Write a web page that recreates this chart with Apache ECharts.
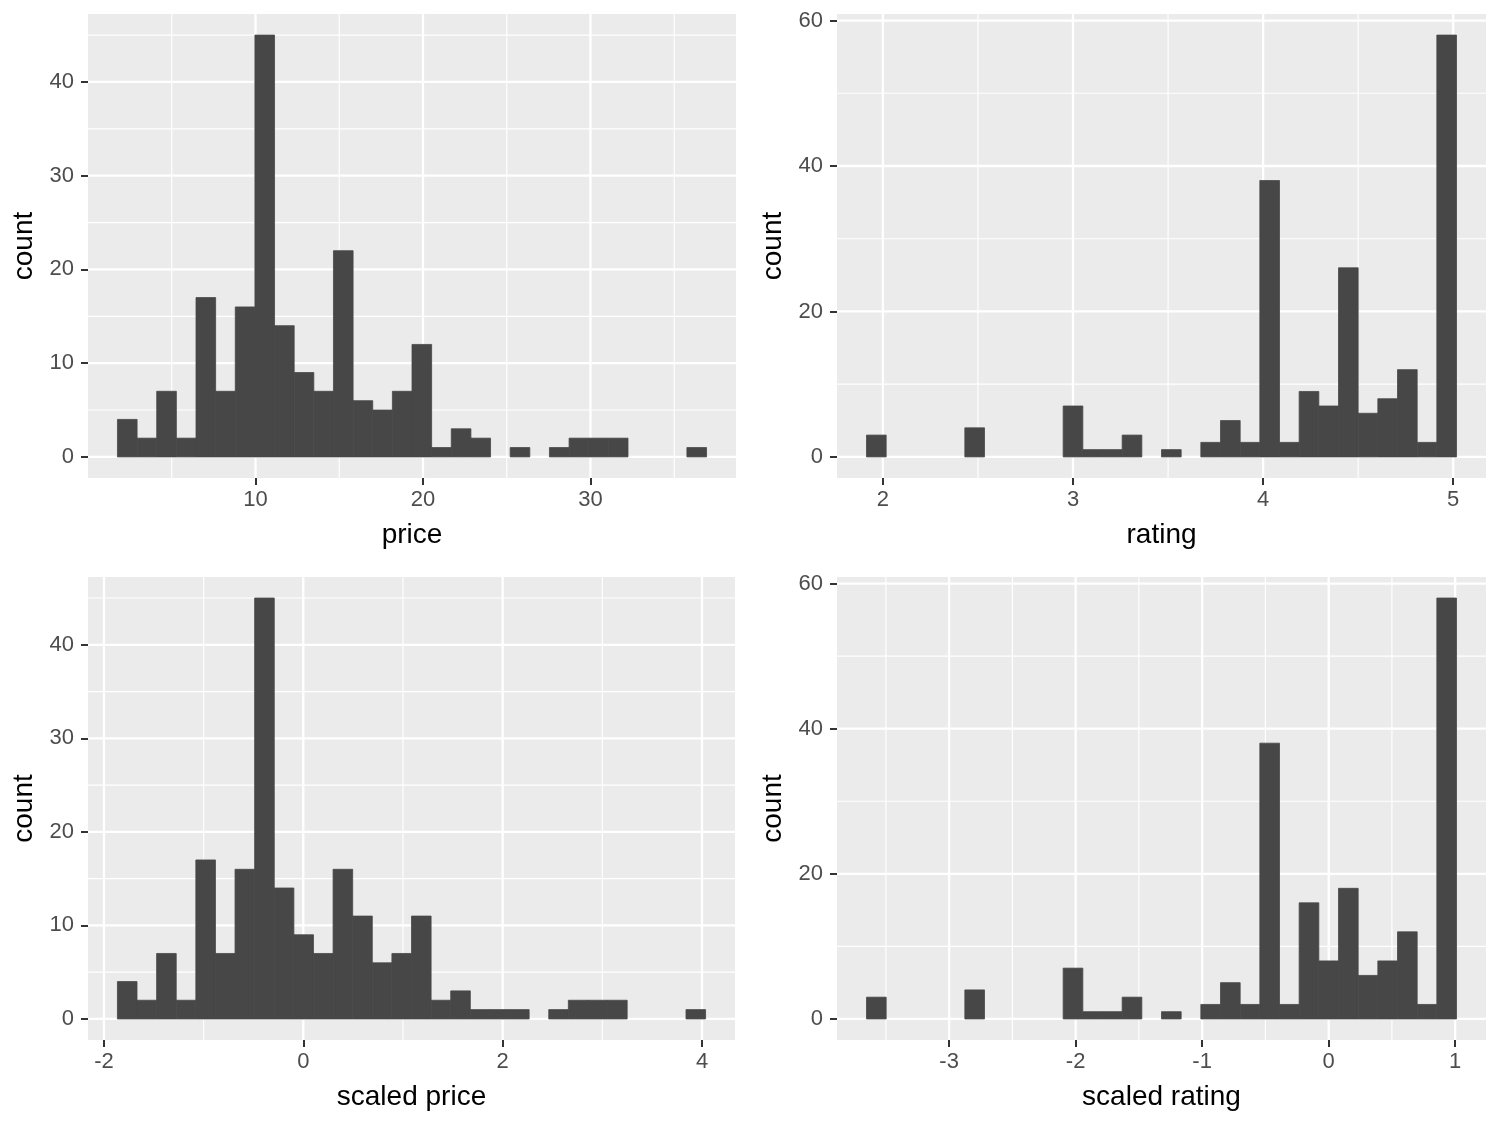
<!DOCTYPE html>
<html><head><meta charset="utf-8">
<script src="https://cdn.jsdelivr.net/npm/echarts@6/dist/echarts.min.js"></script>
<style>html,body{margin:0;padding:0;background:#fff}#c{width:1500px;height:1125px}</style>
</head><body><div id="c"></div>
<script>
// ---- data (histogram counts, 30 bins each) ----
const priceCounts        = [4,2,7,2,17,7,16,45,14,9,7,22,6,5,7,12,1,3,2,0,1,0,1,2,2,2,0,0,0,1];
const priceBinStart      = 1.7586;
const priceBinWidth      = 1.17241;

const ratingCounts       = [3,0,0,0,0,4,0,0,0,0,7,1,1,3,0,1,0,2,5,2,38,2,9,7,26,6,8,12,2,58];
const ratingBinStart     = 1.9138;
const ratingBinWidth     = 0.103448;

const scaledPriceCounts  = [4,2,7,2,17,7,16,45,14,9,7,16,11,6,7,11,2,3,1,1,1,0,1,2,2,2,0,0,0,1];
const scaledPriceBinStart = -1.865;
const scaledPriceBinWidth = 0.1967;

const scaledRatingCounts = [3,0,0,0,0,4,0,0,0,0,7,1,1,3,0,1,0,2,5,2,38,2,16,8,18,6,8,12,2,58];
const scaledRatingBinStart = -3.6531;
const scaledRatingBinWidth = 0.15545;

// ---- tick labels ----
const priceTicks = [10,20,30],           priceMinor = [5,15,25,35];
const ratingTicks = [2,3,4,5],           ratingMinor = [2.5,3.5,4.5];
const scaledPriceTicks = [-2,0,2,4],     scaledPriceMinor = [-1,1,3];
const scaledRatingTicks = [-3,-2,-1,0,1], scaledRatingMinor = [-3.5,-2.5,-1.5,-0.5,0.5];
const countTicksA = [0,10,20,30,40],     countMinorA = [5,15,25,35,45];
const countTicksB = [0,20,40,60],        countMinorB = [10,30,50];

const titles = ['price','rating','scaled price','scaled rating'];

// ---- build ----
const panels = [
  {counts: priceCounts, start: priceBinStart, w: priceBinWidth, xt: priceTicks, xm: priceMinor, yt: countTicksA, ym: countMinorA, name: titles[0], rect:{left:88, top:14, width:648, height:464}},
  {counts: ratingCounts, start: ratingBinStart, w: ratingBinWidth, xt: ratingTicks, xm: ratingMinor, yt: countTicksB, ym: countMinorB, name: titles[1], rect:{left:837, top:14, width:649, height:464}},
  {counts: scaledPriceCounts, start: scaledPriceBinStart, w: scaledPriceBinWidth, xt: scaledPriceTicks, xm: scaledPriceMinor, yt: countTicksA, ym: countMinorA, name: titles[2], rect:{left:88, top:577, width:647, height:463}},
  {counts: scaledRatingCounts, start: scaledRatingBinStart, w: scaledRatingBinWidth, xt: scaledRatingTicks, xm: scaledRatingMinor, yt: countTicksB, ym: countMinorB, name: titles[3], rect:{left:837, top:577, width:649, height:463}}
];

const FONT = '"Liberation Sans", Arial, Helvetica, sans-serif';
const grid = [], xAxis = [], yAxis = [], series = [];

function gridRender(params, api) {
  const cs = params.coordSys;
  const v = api.value(0), dir = api.value(1), major = api.value(2);
  let shape;
  if (dir === 0) {
    const x = api.coord([v, 0])[0];
    shape = {x1: x, y1: cs.y, x2: x, y2: cs.y + cs.height};
  } else {
    const y = api.coord([cs.x, v])[1];
    shape = {x1: cs.x, y1: y, x2: cs.x + cs.width, y2: y};
  }
  return {type: 'line', shape: shape, silent: true,
          style: {stroke: '#ffffff', lineWidth: major ? 2.3 : 1.15}};
}
function barRender(params, api) {
  const c = api.value(2);
  if (!c) return null;
  const p0 = api.coord([api.value(0), c]);
  const p1 = api.coord([api.value(1), 0]);
  return {type: 'rect', shape: {x: p0[0], y: p0[1], width: p1[0] - p0[0], height: p1[1] - p0[1]},
          style: {fill: '#474747', stroke: '#474747', lineWidth: 0.8}};
}

panels.forEach((p, i) => {
  const n = p.counts.length;
  const lo = p.start, hi = p.start + n * p.w;
  const padX = (hi - lo) * 0.05;
  const maxC = Math.max.apply(null, p.counts);
  const padY = maxC * 0.05;
  grid.push(Object.assign({show: true, backgroundColor: '#EBEBEB', borderWidth: 0}, p.rect));
  xAxis.push({
    type: 'value', gridIndex: i, min: lo - padX, max: hi + padX, position: 'bottom',
    axisLine: {show: false, onZero: false}, splitLine: {show: false},
    axisTick: {show: true, length: 7, customValues: p.xt, lineStyle: {color: '#333333', width: 2}},
    axisLabel: {customValues: p.xt, margin: 11, color: '#4D4D4D', fontSize: 22, fontFamily: FONT,
                formatter: v => String(v)},
    name: p.name, nameLocation: 'middle', nameGap: 43,
    nameTextStyle: {color: '#000', fontSize: 28, fontFamily: FONT}
  });
  yAxis.push({
    type: 'value', gridIndex: i, min: -padY, max: maxC + padY, position: 'left',
    axisLine: {show: false, onZero: false}, splitLine: {show: false},
    axisTick: {show: true, length: 7, customValues: p.yt, lineStyle: {color: '#333333', width: 2}},
    axisLabel: {customValues: p.yt, margin: 14, color: '#4D4D4D', fontSize: 22, fontFamily: FONT,
                formatter: v => String(v)},
    name: 'count', nameLocation: 'middle', nameGap: 50, nameRotate: 90,
    nameTextStyle: {color: '#000', fontSize: 28, fontFamily: FONT}
  });
  const gl = [];
  p.xm.forEach(v => gl.push([v, 0, 0]));
  p.ym.forEach(v => gl.push([v, 1, 0]));
  p.xt.forEach(v => gl.push([v, 0, 1]));
  p.yt.forEach(v => gl.push([v, 1, 1]));
  series.push({type: 'custom', xAxisIndex: i, yAxisIndex: i, renderItem: gridRender,
               data: gl, silent: true, z: 1, clip: false, encode: {x: -1, y: -1}});
  const bars = p.counts.map((c, k) => [p.start + k * p.w, p.start + (k + 1) * p.w, c]);
  series.push({type: 'custom', xAxisIndex: i, yAxisIndex: i, renderItem: barRender,
               data: bars, z: 2, encode: {x: [0, 1], y: 2}});
});

const chart = echarts.init(document.getElementById('c'), null, {renderer: 'canvas'});
chart.setOption({animation: false, backgroundColor: '#ffffff', grid, xAxis, yAxis, series});
</script></body></html>
